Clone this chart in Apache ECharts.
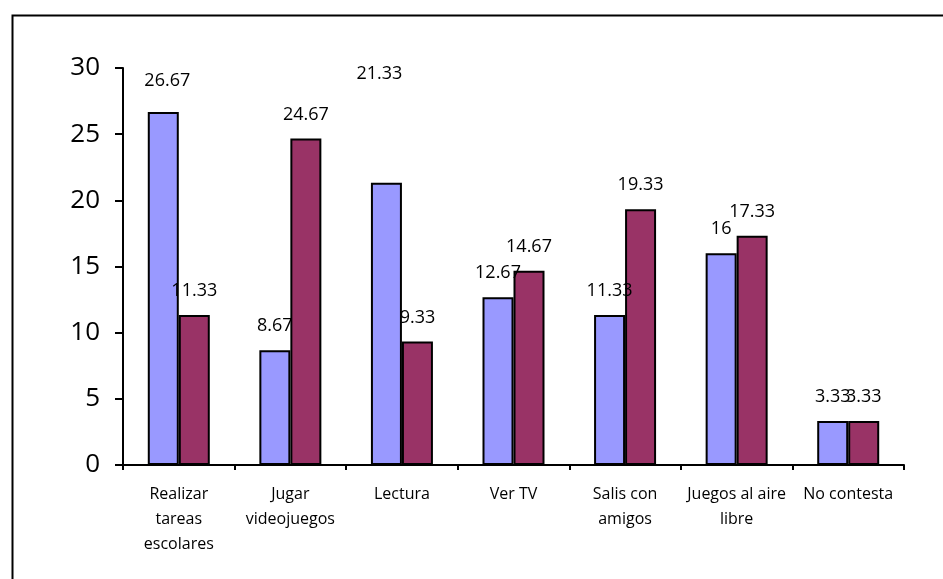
<!DOCTYPE html>
<html>
<head>
<meta charset="utf-8">
<script src="https://cdn.jsdelivr.net/npm/echarts@6/dist/echarts.min.js"></script>
<style>
  html, body { margin: 0; padding: 0; background: #ffffff; }
  #chart { width: 943px; height: 579px; }
</style>
</head>
<body>
<div id="chart"></div>
<script>
// Activities (percent of answers), two groups of respondents
const categories = [
  'Realizar\ntareas\nescolares',
  'Jugar\nvideojuegos',
  'Lectura',
  'Ver TV',
  'Salis con\namigos',
  'Juegos al aire\nlibre',
  'No contesta'
];
const seriesA = [26.67, 8.67, 21.33, 12.67, 11.33, 16, 3.33];
const seriesB = [11.33, 24.67, 9.33, 14.67, 19.33, 17.33, 3.33];
const yTicks = { min: 0, max: 30, step: 5 };

const FONT = '"Open Sans", Lato, sans-serif';

// Per-point label nudges [dx, dy] in pixels (a couple of labels sit higher)
const nudgeA = { 0: [4, -7], 2: [-7, -85] };
const nudgeB = {};

function buildData(values, nudges) {
  return values.map(function (v, i) {
    const item = { value: v };
    if (nudges[i]) item.label = { offset: nudges[i] };
    return item;
  });
}

const barLabel = {
  show: true,
  position: 'top',
  distance: 14,
  color: '#000',
  fontFamily: FONT,
  fontSize: 18,
  lineHeight: 20
};

const chart = echarts.init(document.getElementById('chart'), null, { renderer: 'canvas' });
chart.setOption({
  animation: false,
  backgroundColor: '#ffffff',
  graphic: [{
    type: 'rect',
    left: 10, top: 13,
    shape: { width: 1000, height: 1000 },
    style: { fill: 'none', stroke: '#000', lineWidth: 2 },
    z: 100
  }],
  grid: { left: 123, right: 39, top: 68, bottom: 114, containLabel: false },
  xAxis: {
    type: 'category',
    data: categories,
    boundaryGap: true,
    axisLine: { show: true, lineStyle: { color: '#000', width: 2 } },
    axisTick: { show: true, length: 5, alignWithLabel: false, lineStyle: { color: '#000', width: 2 } },
    axisLabel: {
      interval: 0,
      margin: 17,
      color: '#000',
      fontFamily: FONT,
      fontSize: 16,
      lineHeight: 25,
      align: 'center'
    },
    splitLine: { show: false }
  },
  yAxis: {
    type: 'value',
    min: yTicks.min,
    max: yTicks.max,
    interval: yTicks.step,
    axisLine: { show: true, lineStyle: { color: '#000', width: 2 } },
    axisTick: { show: true, inside: false, length: 8, lineStyle: { color: '#000', width: 2 } },
    axisLabel: { color: '#000', fontFamily: FONT, fontSize: 26, margin: 23 },
    splitLine: { show: false }
  },
  series: [
    {
      name: 'A',
      type: 'bar',
      data: buildData(seriesA, nudgeA),
      barWidth: 31,
      barGap: '0%',
      itemStyle: { color: '#9999FF', borderColor: '#000', borderWidth: 2 },
      label: barLabel
    },
    {
      name: 'B',
      type: 'bar',
      data: buildData(seriesB, nudgeB),
      barWidth: 31,
      barGap: '0%',
      itemStyle: { color: '#993366', borderColor: '#000', borderWidth: 2 },
      label: barLabel
    }
  ]
});
</script>
</body>
</html>
